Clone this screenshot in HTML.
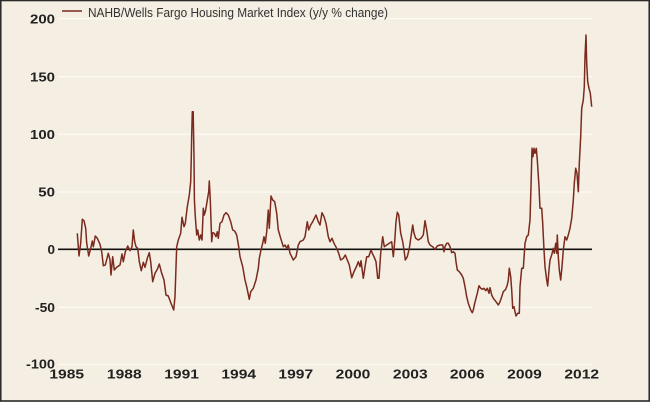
<!DOCTYPE html>
<html>
<head>
<meta charset="utf-8">
<style>
html,body{margin:0;padding:0;background:#f5eee2;}
svg{display:block;}
</style>
</head>
<body>
<svg width="650" height="402" viewBox="0 0 650 402" xmlns="http://www.w3.org/2000/svg">
<rect x="0" y="0" width="650" height="402" fill="#f5eee2"/>
<rect x="0.75" y="0.5" width="648.5" height="400.5" fill="none" stroke="#2b2b2b" stroke-width="1.6"/>
<g stroke="#fdfaf4" stroke-width="1.3">
<line x1="58" y1="18.6" x2="592" y2="18.6"/>
<line x1="58" y1="76.7" x2="592" y2="76.7"/>
<line x1="58" y1="134.3" x2="592" y2="134.3"/>
<line x1="58" y1="192" x2="592" y2="192"/>
<line x1="58" y1="307.3" x2="592" y2="307.3"/>
<line x1="58" y1="364.5" x2="592" y2="364.5"/>
</g>
<line x1="58" y1="249.3" x2="592" y2="249.3" stroke="#111" stroke-width="1.6"/>
<g font-family="Liberation Sans, sans-serif" font-weight="bold" font-size="13" fill="#222" text-anchor="end">
<text x="55" y="23.3" textLength="25" lengthAdjust="spacingAndGlyphs">200</text>
<text x="55" y="81.4" textLength="25" lengthAdjust="spacingAndGlyphs">150</text>
<text x="55" y="139" textLength="25" lengthAdjust="spacingAndGlyphs">100</text>
<text x="55" y="196.7" textLength="16.7" lengthAdjust="spacingAndGlyphs">50</text>
<text x="55" y="254" textLength="7.5" lengthAdjust="spacingAndGlyphs">0</text>
<text x="55" y="312" textLength="20" lengthAdjust="spacingAndGlyphs">-50</text>
<text x="55" y="368.6" textLength="29" lengthAdjust="spacingAndGlyphs">-100</text>
</g>
<g font-family="Liberation Sans, sans-serif" font-weight="bold" font-size="13" fill="#222" text-anchor="middle">
<text x="66.7" y="378.5" textLength="34.7" lengthAdjust="spacingAndGlyphs">1985</text>
<text x="124.3" y="378.5" textLength="34.7" lengthAdjust="spacingAndGlyphs">1988</text>
<text x="181.6" y="378.5" textLength="34.7" lengthAdjust="spacingAndGlyphs">1991</text>
<text x="238.7" y="378.5" textLength="34.7" lengthAdjust="spacingAndGlyphs">1994</text>
<text x="295.8" y="378.5" textLength="34.7" lengthAdjust="spacingAndGlyphs">1997</text>
<text x="353" y="378.5" textLength="34.7" lengthAdjust="spacingAndGlyphs">2000</text>
<text x="410.3" y="378.5" textLength="34.7" lengthAdjust="spacingAndGlyphs">2003</text>
<text x="467.2" y="378.5" textLength="34.7" lengthAdjust="spacingAndGlyphs">2006</text>
<text x="524.5" y="378.5" textLength="34.7" lengthAdjust="spacingAndGlyphs">2009</text>
<text x="581.7" y="378.5" textLength="34.7" lengthAdjust="spacingAndGlyphs">2012</text>
</g>
<line x1="62" y1="11" x2="82" y2="11" stroke="#7b2a1e" stroke-width="1.6"/>
<text x="88" y="17" font-family="Liberation Sans, sans-serif" font-size="12.5" fill="#333" textLength="300" lengthAdjust="spacingAndGlyphs">NAHB/Wells Fargo Housing Market Index (y/y % change)</text>
<polyline fill="none" stroke="#7b2a1e" stroke-width="1.5" stroke-linejoin="round" points="
77.3,233.3 79,256 80.7,243 82.3,219.3 84,220.7 85.7,228.3 86.7,243 88.7,256 90.7,248.3 92.3,241 93.3,246.7 95.3,236 97.3,238.3 100,244.3 101.7,251.7 103.3,265.7 105.3,265 108.3,253.3 110,260 111,275 112.7,256.7 114.3,270 116.7,267.3 120,265 122,254 123.3,261.7 125.3,251.7 127.7,246 130,250.7 132,246.7 133.3,230 134.7,241.7 136,246.7 137.7,248.3 139.3,261.7 141.3,270.7 143.3,262.3 145,267.3 147.3,258.3 149.3,252.7 150.7,261.7 152.7,281.7 155,273.3 157.3,269.3 159.3,264 161.7,273.3 164,280 166,295 168.3,296 171,303.3 173.7,310 175,296.7 176,266.7 176.7,246.7
178.3,240 180.7,233.3 182,217.3 184,226.7 185.3,223.3 187.3,206.7 189.3,195 190.7,181.7 191.3,156.7 191.7,135 192.3,111.7 193.2,111.7 193.6,135 194,156.7 194.4,200 195.3,216.7 196.7,235 197.7,230 199.3,240 200.7,235 202,240 203.3,208.3 204.3,215 205.7,210 207.3,200 208.7,191.7 209.3,181 210.3,200 211.7,241.7 212.7,232.7 214.3,233.3 216,236.7 217.3,231.7 218.3,238.3 220,223.3 222,221.7 224,215 226,212.7 228.3,215 230.7,221.7 232.7,230 234.7,231 236.7,235 238.7,246.7 240,256.7 242.7,266.7 245,280 246.7,286.7 249.3,299.3 250.7,291.7 253.3,288.3 256,280 258.3,268.3 259.3,258.3 261,250 262.7,243.3 264,236.7 265.3,243.3 266.7,231.7 268.3,210 269.3,228.3 271,196 272.7,200 274.7,201.7 276.7,213.3 278.3,230 280.7,238.3 283.3,246.7 285,245 286.7,248.3 288.3,245
290,253.3 291.7,256.7 293.3,260 296,256.7 298.3,245 300,241.7 303.3,240 305,236.7 307.3,221.7 308.7,230 310.7,225 312.7,221.7 316,215 318.3,221.7 320,225 322,212.7 324,216.7 326,223.3 328.3,236.7 330,241.7 332,238.3 334,243.3 336.7,248.3 338.7,253.3 340.7,260 343.3,258.3 345.3,255 347.3,260 349.3,265 351.7,277.7 354,271.7 356.7,266 358.3,261.7 360,266.7 361,260.7 363.3,278.3 365.3,265 366.7,256.7 368.7,256.7 371,250 372.3,253.3 374,256.7 376,261.7 377.7,278.3 379,278.3 380.7,253.3 382.7,236.7 384.3,246.7 386.7,245 389.3,243.3 391.7,241.7 393.3,256.7 394.7,241.7 396,221.7 397.3,212.3 398.7,215 400.7,233.3 402.7,241.7 404,250 405.3,260 407.3,256.7 409.3,248.3 411,236.7 412.7,225 414,233.3 415.7,238.3 418.3,240 421,238.3 423.3,235 425,220.7 426.7,230 428.3,241.7 430,245 432.7,246.7 435,249.3 437.3,246 440,245
442.7,245 444,251.7 445,246.7 446.7,243.3 448.3,243.3 450,246.7 451.7,252.7 453.3,251.7 455,253.3 456,261.7 457.3,270 459.3,271.7 461.7,275 463.3,278.3 465,286.7 466.7,296.7 468.3,303.3 470.7,310 472.3,312.7 473.3,310 474.7,303.3 476,298.3 477.3,293.3 479,285.7 480.7,288.3 482.3,289.3 484,288.3 485.7,290.7 487.3,288.3 489,293.3 490,287.7 491.7,295 493.3,298.3 496,301.7 498.3,305 500,301.7 501.7,296.7 503.3,291.7 505.7,289.3 507.3,285 508.3,280 509.3,268.3 510.7,276.7 511.7,290 512.7,308.3 514,306.7 515,311.7 516,316 517.7,313.3 519.3,313.3
520,286.7 521.7,268.3 523.3,268.3 525,243.3 526.7,236.7 528.3,235 530,220 531,186.7 532,148.3 533,156.7 534,148.3 535,153.3 536.3,148.3 537.3,160 539,186.7 540,208.3 541.7,208.3 542.7,223.3 544,250 545,266.7 546.7,280 547.7,286 549,270 550,260 551.7,255 553.3,248.3 554.3,253.3 555.7,243.3 556.7,253.3 557.3,235 558.3,256.7 559.3,270 560.7,280 562,266.7 563.3,250 565,236.7 566.7,240 568.3,235 570,228.3 571.7,218.3 573.3,200 574.3,183.3 575.7,168.3 577,173.3 578.3,191.7 579.3,163.3 580.7,136.7 581.7,108.3 583.3,100 584.3,86.7 585,56.7 586,35 586.7,63.3 587.7,81.7 589,88.3 590.3,93.3 591.7,106.7"/>
</svg>
</body>
</html>
